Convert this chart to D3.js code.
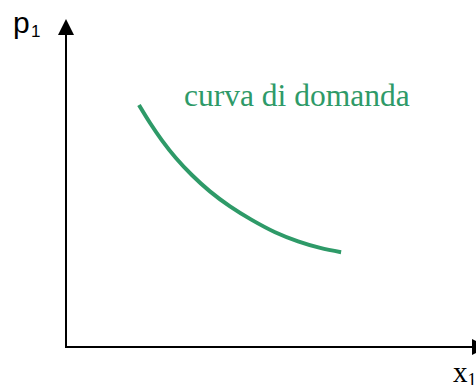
<!DOCTYPE html>
<html><head><meta charset="utf-8">
<script src="https://cdn.jsdelivr.net/npm/d3@7"></script>
<style>html,body{margin:0;padding:0;background:#fff;overflow:hidden}</style>
</head><body>
<script>
// Demand curve points (x1, p1) in abstract units
const curveX = [1.78, 2.05, 2.34, 2.68, 3.07, 3.51, 4.00, 4.54, 5.10, 5.66, 6.20, 6.71];
const curveY = [7.40, 6.85, 6.32, 5.78, 5.26, 4.76, 4.30, 3.88, 3.51, 3.23, 3.03, 2.90];
const curveLabel = "curva di domanda";
const yAxisLabel = ["p", "1"];
const xAxisLabel = ["x", "1"];

const W = 476, H = 385;
const green = "#2e9a68";
const x = d3.scaleLinear().domain([0, 10]).range([66, 476]);
const y = d3.scaleLinear().domain([0, 10]).range([347, 20]);

const svg = d3.select("body").append("svg").attr("width", W).attr("height", H);

// axes
svg.append("line").attr("x1", x(0)).attr("y1", y(0)).attr("x2", x(0)).attr("y2", 34)
  .attr("stroke", "#000").attr("stroke-width", 2);
svg.append("path").attr("d", `M${x(0)-8},35 L${x(0)},19 L${x(0)+8},35 Z`).attr("fill", "#000");
svg.append("line").attr("x1", x(0) - 1).attr("y1", y(0)).attr("x2", 473).attr("y2", y(0))
  .attr("stroke", "#000").attr("stroke-width", 2);
svg.append("path").attr("d", `M472,${y(0)-8} L488,${y(0)} L472,${y(0)+8} Z`).attr("fill", "#000");

// labels
const pt = svg.append("text").attr("x", 13).attr("y", 33)
  .attr("font-family", "Liberation Sans, Arial, sans-serif").attr("font-size", 30).attr("fill", "#000");
pt.append("tspan").text(yAxisLabel[0]);
pt.append("tspan").attr("x", 31).attr("y", 37).attr("font-size", 17).text(yAxisLabel[1]);

const xt = svg.append("text").attr("x", 453).attr("y", 382)
  .attr("font-family", "Liberation Serif, Times New Roman, serif").attr("font-size", 29).attr("fill", "#000");
xt.append("tspan").text(xAxisLabel[0]);
xt.append("tspan").attr("font-size", 18).attr("dy", 4).text(xAxisLabel[1]);

// curve
const pts = curveX.map((v, i) => [v, curveY[i]]);
svg.append("path").datum(pts)
  .attr("d", d3.line().x(d => x(d[0])).y(d => y(d[1])).curve(d3.curveCatmullRom.alpha(0.5)))
  .attr("fill", "none").attr("stroke", green).attr("stroke-width", 4);

svg.append("text").attr("x", 184).attr("y", 106)
  .attr("font-family", "Liberation Serif, Times New Roman, serif").attr("font-size", 31.5)
  .attr("fill", green).text(curveLabel);
</script>
</body></html>
